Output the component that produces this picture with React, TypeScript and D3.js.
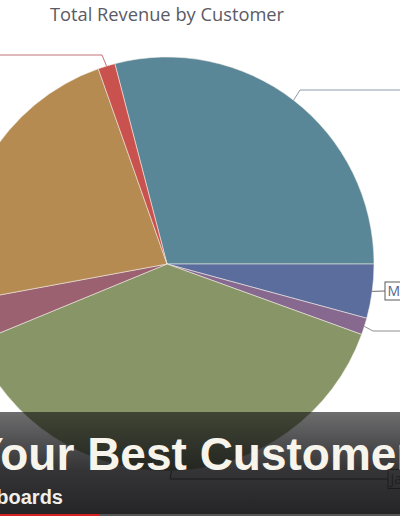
import * as d3 from "d3";

// customers clockwise from the top, starting with the big teal slice
const customers = [
  "Northwind Traders",
  "Midwest Supply",
  "Lakeside Foods",
  "Jameson Retail",
  "Harbor Goods",
  "Contoso Ltd",
  "Alpine Outfitters",
];
const revenue = [290600, 42200, 13100, 382500, 33100, 225300, 13300];
const sliceColors = ["#5a8797", "#5b6d9d", "#87698f", "#889566", "#9c6171", "#b68b51", "#c9514e"];
const lineColors = ["#8d9cab", "#6b6b6b", "#8f8f95", "#444", "#999", "#999", "#c2727a"];
// which labels are drawn (the rest fall outside the crop)
const labelText = ["", "Midwest Supply", "", "Jameson Retail", "", "", ""];

const W = 400;
const H = 516;
const cx = 167;
const cy = 264;
const R = 207;

export default function App() {
  const pie = d3
    .pie<number>()
    .sort(null)
    .startAngle((-14.6 * Math.PI) / 180)
    .endAngle((-14.6 * Math.PI) / 180 + 2 * Math.PI);
  const arcs = pie(revenue);
  const arc = d3.arc<d3.PieArcDatum<number>>().innerRadius(0).outerRadius(R);

  // point on the rim at the middle of each slice
  const rim = (d: d3.PieArcDatum<number>) => {
    const a = (d.startAngle + d.endAngle) / 2;
    return [cx + R * Math.sin(a), cy - R * Math.cos(a)];
  };

  // leader line routes: elbow then end
  const elbows: Record<number, number[][]> = {
    0: [[300, 90], [410, 90]],
    1: [[385, 291]],
    2: [[373, 331], [410, 331]],
    3: [[170, 479], [388, 479]],
    6: [[102, 55], [-10, 55]],
  };

  return (
    <svg
      width={W}
      height={H}
      style={{ position: "absolute", left: 0, top: 0, background: "#fff" }}
    >
      <defs>
        <linearGradient id="shade" x1="0" y1="0" x2="0" y2="1">
          <stop offset="0" stopColor="#141416" stopOpacity={0.62} />
          <stop offset="0.55" stopColor="#141416" stopOpacity={0.86} />
          <stop offset="1" stopColor="#141416" stopOpacity={0.93} />
        </linearGradient>
      </defs>

      <text
        x={cx}
        y={21}
        textAnchor="middle"
        fontFamily="'Open Sans', sans-serif"
        fontSize={18.3}
        fill="#5a5a64"
      >
        Total Revenue by Customer
      </text>

      <g transform={`translate(${cx},${cy})`}>
        {arcs.map((d, i) => (
          <path
            key={customers[i]}
            d={arc(d) || ""}
            fill={sliceColors[i]}
            stroke="#f3eee8"
            strokeOpacity={0.7}
            strokeWidth={0.8}
          />
        ))}
      </g>

      {arcs.map((d, i) => {
        const route = elbows[i];
        if (!route) return null;
        const pts = [rim(d), ...route];
        return (
          <polyline
            key={"l" + i}
            points={pts.map((p) => p.join(",")).join(" ")}
            fill="none"
            stroke={lineColors[i]}
            strokeWidth={1}
          />
        );
      })}

      {arcs.map((d, i) => {
        if (!labelText[i]) return null;
        const route = elbows[i];
        const [lx, ly] = route[route.length - 1];
        const h = i === 1 ? 18 : 19;
        return (
          <g key={"t" + i}>
            <rect
              x={lx}
              y={ly - h / 2}
              width={110}
              height={h}
              fill="#fff"
              stroke="#5a5a5a"
              strokeWidth={1}
            />
            <text
              x={lx + 2.5}
              y={ly + 5}
              fontFamily="'Open Sans', sans-serif"
              fontSize={14}
              fill={i === 1 ? "#56658f" : "#6f7a52"}
            >
              {labelText[i]}
            </text>
          </g>
        );
      })}

      <rect x={0} y={412} width={W} height={H - 412} fill="url(#shade)" />
      <text
        x={-27}
        y={470}
        fontFamily="'Liberation Sans', Arial, sans-serif"
        fontWeight="bold"
        fontSize={46}
        fill="#f7f4ec"
      >
        Your Best Customers
      </text>
      <text
        x={63}
        y={504}
        textAnchor="end"
        fontFamily="'Liberation Sans', Arial, sans-serif"
        fontWeight="bold"
        fontSize={20}
        fill="#f2efe8"
      >
        Dashboards
      </text>
      <rect x={0} y={514} width={W} height={2} fill="#555" />
      <rect x={0} y={514} width={100} height={2} fill="#d42020" />
    </svg>
  );
}
